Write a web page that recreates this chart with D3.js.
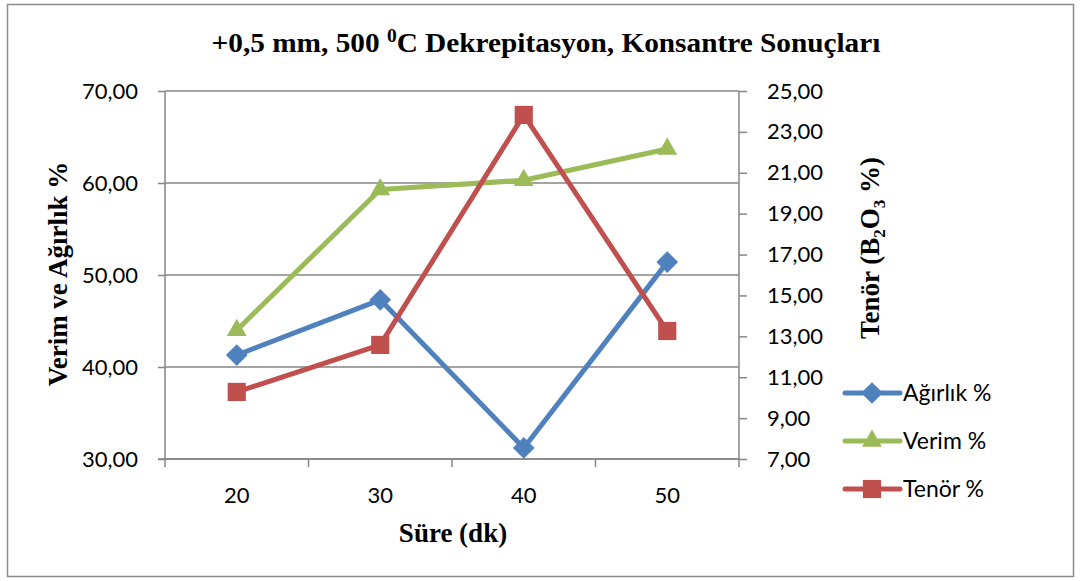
<!DOCTYPE html>
<html>
<head>
<meta charset="utf-8">
<script src="https://cdn.jsdelivr.net/npm/d3@7"></script>
<style>
  html, body { margin: 0; padding: 0; background: #fff; }
  svg { display: block; }
</style>
</head>
<body>
<svg id="chart" width="1081" height="581"></svg>
<script>
// Dekrepitasyon süresine göre konsantre sonuçları
const sureler = [20, 30, 40, 50];                 // Süre (dk)
const agirlik = [41.3, 47.3, 31.2, 51.4];         // Ağırlık % (sol eksen)
const verim   = [44.0, 59.3, 60.3, 63.7];         // Verim % (sol eksen)
const tenor   = [10.28, 12.58, 23.83, 13.26];     // Tenör B2O3 % (sağ eksen)

const solTicks = [30, 40, 50, 60, 70];
const sagTicks = [7, 9, 11, 13, 15, 17, 19, 21, 23, 25];

const fmt = v => d3.format(".2f")(v).replace(".", ",");

const svg = d3.select("#chart");
const plot = { left: 165, right: 739, top: 91, bottom: 459 };

const tickFont = "Lato, 'Open Sans', sans-serif";
const serif = "'Liberation Serif', 'Times New Roman', serif";
const grid = "#868686";

// dış çerçeve
svg.append("rect")
  .attr("x", 7.5).attr("y", 4.5).attr("width", 1066).attr("height", 572)
  .attr("fill", "#fff").attr("stroke", "#8c8c8c").attr("stroke-width", 1.5);

const x = d3.scaleBand().domain(sureler).range([plot.left, plot.right]);
const yL = d3.scaleLinear().domain([30, 70]).range([plot.bottom, plot.top]);
const yR = d3.scaleLinear().domain([7, 25]).range([plot.bottom, plot.top]);
const cx = d => x(d) + x.bandwidth() / 2;

// yatay ızgara çizgileri
svg.append("g").selectAll("line").data(solTicks).join("line")
  .attr("x1", plot.left).attr("x2", plot.right)
  .attr("y1", d => yL(d)).attr("y2", d => yL(d))
  .attr("stroke", grid).attr("stroke-width", 1.5);

// sol eksen
const gL = svg.append("g").attr("transform", `translate(${plot.left},0)`)
  .call(d3.axisLeft(yL).tickValues(solTicks).tickFormat(fmt).tickSize(7).tickPadding(20));
gL.select(".domain").attr("stroke", grid).attr("stroke-width", 1.5).attr("d", `M0,${plot.top}V${plot.bottom}`);
gL.selectAll(".tick line").attr("stroke", grid).attr("stroke-width", 1.5);
gL.selectAll(".tick text").attr("font-family", tickFont).attr("font-size", 22).attr("fill", "#000");

// sağ eksen
const gR = svg.append("g").attr("transform", `translate(${plot.right},0)`)
  .call(d3.axisRight(yR).tickValues(sagTicks).tickFormat(fmt).tickSize(8).tickPadding(20));
gR.select(".domain").attr("stroke", grid).attr("stroke-width", 1.5).attr("d", `M0,${plot.top}V${plot.bottom}`);
gR.selectAll(".tick line").attr("stroke", grid).attr("stroke-width", 1.5);
gR.selectAll(".tick text").attr("font-family", tickFont).attr("font-size", 22).attr("fill", "#000");

// alt eksen: kategori sınırlarında tikler
const gB = svg.append("g").attr("transform", `translate(0,${plot.bottom})`);
gB.append("line").attr("x1", plot.left - 7).attr("x2", plot.right)
  .attr("stroke", grid).attr("stroke-width", 1.5);
const sinirlar = sureler.map(d => x(d)).concat([plot.right]);
gB.selectAll("line.t").data(sinirlar).join("line").attr("class", "t")
  .attr("x1", d => d).attr("x2", d => d).attr("y1", 0).attr("y2", 8)
  .attr("stroke", grid).attr("stroke-width", 1.5);
gB.selectAll("text").data(sureler).join("text")
  .attr("x", d => cx(d)).attr("y", 44)
  .attr("text-anchor", "middle")
  .attr("font-family", tickFont).attr("font-size", 22).text(d => d);

// seriler
const seriler = [
  { ad: "Ağırlık %", veri: agirlik, y: yL, renk: "#4F81BD", sembol: d3.symbolDiamond2, boy: 300 },
  { ad: "Verim %",   veri: verim,   y: yL, renk: "#9BBB59", sembol: d3.symbolTriangle, boy: 170 },
  { ad: "Tenör %",   veri: tenor,   y: yR, renk: "#C0504D", sembol: d3.symbolSquare,   boy: 330 }
];

seriler.forEach(s => {
  const pts = sureler.map((d, i) => [cx(d), s.y(s.veri[i])]);
  svg.append("path")
    .attr("d", d3.line()(pts))
    .attr("fill", "none").attr("stroke", s.renk).attr("stroke-width", 5)
    .attr("stroke-linejoin", "round");
  svg.append("g").selectAll("path").data(pts).join("path")
    .attr("transform", p => `translate(${p[0]},${p[1]})`)
    .attr("d", d3.symbol().type(s.sembol).size(s.boy))
    .attr("fill", s.renk);
});

// başlık
const t = svg.append("text")
  .attr("transform", "translate(546,52) scale(1.085,1)")
  .attr("text-anchor", "middle")
  .attr("font-family", serif).attr("font-weight", "bold").attr("font-size", 27);
t.append("tspan").text("+0,5 mm, 500 ");
t.append("tspan").attr("font-size", 18).attr("dy", -10).text("0");
t.append("tspan").attr("dy", 10).text("C Dekrepitasyon, Konsantre Sonuçları");

// eksen başlıkları
svg.append("text")
  .attr("transform", "translate(67,274) rotate(-90)")
  .attr("text-anchor", "middle")
  .attr("font-family", serif).attr("font-weight", "bold").attr("font-size", 27)
  .text("Verim ve Ağırlık %");

const tr = svg.append("text")
  .attr("transform", "translate(879,248) rotate(-90)")
  .attr("text-anchor", "middle")
  .attr("font-family", serif).attr("font-weight", "bold").attr("font-size", 27);
tr.append("tspan").text("Tenör (B");
tr.append("tspan").attr("font-size", 17).attr("dy", 6).text("2");
tr.append("tspan").attr("dy", -6).text("O");
tr.append("tspan").attr("font-size", 17).attr("dy", 6).text("3");
tr.append("tspan").attr("dy", -6).text(" %)");

svg.append("text")
  .attr("x", 453).attr("y", 542)
  .attr("text-anchor", "middle")
  .attr("font-family", serif).attr("font-weight", "bold").attr("font-size", 27)
  .text("Süre (dk)");

// gösterge
const lg = svg.append("g").selectAll("g").data(seriler).join("g")
  .attr("transform", (d, i) => `translate(845,${393 + i * 48})`);
lg.append("line").attr("x1", 0).attr("x2", 55)
  .attr("stroke", d => d.renk).attr("stroke-width", 5).attr("stroke-linecap", "round");
lg.append("path").attr("transform", "translate(27,0)")
  .attr("d", d => d3.symbol().type(d.sembol).size(d.boy)())
  .attr("fill", d => d.renk);
lg.append("text").attr("x", 58).attr("y", 8)
  .attr("font-family", tickFont).attr("font-size", 23).text(d => d.ad);
</script>
</body>
</html>
